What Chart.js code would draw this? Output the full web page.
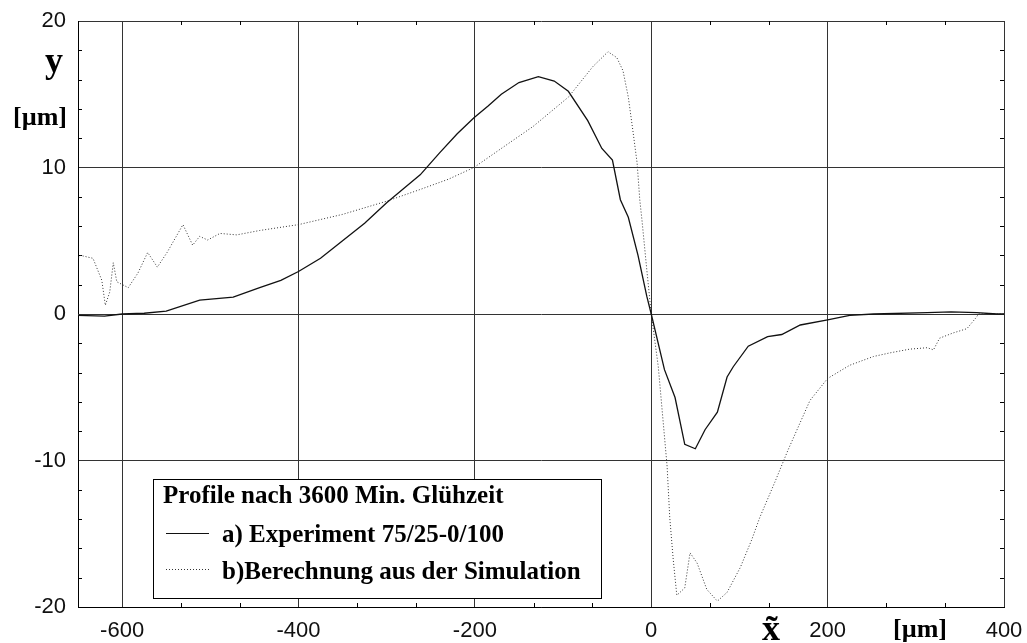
<!DOCTYPE html>
<html>
<head>
<meta charset="utf-8">
<script src="https://cdn.jsdelivr.net/npm/chart.js@4"></script>
<style>
  body { margin: 0; background: #fff; }
</style>
</head>
<body>
<canvas id="profileChart" width="1027" height="643"></canvas>
<script>
// axis ticks
const xTicks = [-600, -400, -200, 0, 200, 400];
const yTicks = [-20, -10, 0, 10, 20];

// a) Experiment 75/25-0/100
const expX = [-650, -620, -600, -575, -550, -512, -474, -444, -420, -400, -375, -350, -325, -300, -280, -262,
  -240, -220, -201, -185, -170, -150, -128, -110, -94, -72, -56, -44, -35, -26, -15, -5, 0,
  15, 27, 38, 50, 61, 75, 86, 93, 110, 132, 148, 169, 200, 225, 252, 313, 340, 369, 392, 400];
const expY = [-0.1, -0.15, 0, 0.05, 0.2, 0.95, 1.15, 1.8, 2.3, 2.9, 3.8, 5.0, 6.2, 7.6, 8.6, 9.5,
  11.0, 12.3, 13.4, 14.2, 15.0, 15.8, 16.2, 15.9, 15.2, 13.2, 11.3, 10.5, 7.8, 6.6, 4.0, 1.2, 0,
  -3.8, -5.7, -8.9, -9.2, -7.9, -6.7, -4.3, -3.6, -2.2, -1.55, -1.4, -0.75, -0.4, -0.1, 0, 0.1, 0.15, 0.1, 0, 0];

// b) Berechnung aus der Simulation
const simX = [-650, -647, -633, -623, -619, -614, -610, -606, -593, -582, -571, -560, -549, -531, -520, -512,
  -503, -489, -470, -444, -400, -350, -300, -262, -230, -201, -170, -134, -94, -66, -49, -39, -32, -26,
  -21, -16, -13, -10.5, -5, 0, 8, 13, 18, 21, 25, 29, 38, 44, 52, 63, 75, 86, 101, 114, 123, 140, 155,
  180, 200, 225, 252, 271, 293, 313, 320, 327, 342, 358, 369, 371, 400];
const simY = [3.8, 4.0, 3.8, 2.3, 0.6, 1.5, 3.5, 2.2, 1.8, 2.8, 4.2, 3.2, 4.2, 6.1, 4.7, 5.3,
  5.05, 5.5, 5.4, 5.7, 6.1, 6.8, 7.7, 8.5, 9.2, 10.0, 11.3, 12.8, 14.8, 16.9, 17.9, 17.5, 16.6, 14.8,
  12.6, 10.3, 7.8, 6.4, 3.0, 0, -3.6, -7.0, -10.4, -13.9, -16.8, -19.2, -18.7, -16.3, -17.0, -18.8, -19.6, -19.0, -17.3, -15.4, -13.9, -11.5, -9.3,
  -5.9, -4.4, -3.5, -2.9, -2.65, -2.4, -2.3, -2.45, -1.65, -1.3, -1.0, -0.2, 0, 0];

const legendTitle = 'Profile nach 3600 Min. Glühzeit';

const SERIF = "'Liberation Serif', 'Times New Roman', serif";
const SANS = "'Liberation Sans', Arial, sans-serif";

function toPoints(xs, ys) {
  return xs.map((x, i) => ({ x: x, y: ys[i] }));
}

// small inward tick marks between the grid lines
const minorTicks = {
  id: 'minorTicks',
  beforeDatasetsDraw(chart) {
    const { ctx, chartArea: a, scales: { x, y } } = chart;
    ctx.save();
    ctx.strokeStyle = '#000';
    ctx.lineWidth = 1;
    ctx.beginPath();
    for (let k = 1; k < 15; k++) {
      const v = -600 + k * 200 / 3;
      if (k % 3 === 0 || v > 400) continue;
      const px = Math.round(x.getPixelForValue(v)) + 0.5;
      ctx.moveTo(px, a.bottom); ctx.lineTo(px, a.bottom - 4);
      ctx.moveTo(px, a.top); ctx.lineTo(px, a.top + 4);
    }
    for (let v = -18; v < 20; v += 2) {
      if (v % 10 === 0) continue;
      const py = Math.round(y.getPixelForValue(v)) + 0.5;
      ctx.moveTo(a.left, py); ctx.lineTo(a.left + 4, py);
      ctx.moveTo(a.right, py); ctx.lineTo(a.right - 4, py);
    }
    ctx.stroke();
    ctx.restore();
  }
};

// boxed legend inside the plot, lower left
const boxLegend = {
  id: 'boxLegend',
  afterDatasetsDraw(chart) {
    const { ctx } = chart;
    const ds = chart.data.datasets;
    ctx.save();
    ctx.fillStyle = '#fff';
    ctx.fillRect(153, 479, 448, 119);
    ctx.strokeStyle = '#000';
    ctx.lineWidth = 1;
    ctx.strokeRect(153.5, 479.5, 448, 119);

    ctx.fillStyle = '#000';
    ctx.font = 'bold 25px ' + SERIF;
    ctx.textBaseline = 'alphabetic';
    ctx.textAlign = 'left';
    ctx.fillText(legendTitle, 163, 503);

    const rows = [533.5, 569.5];
    const base = [542, 579];
    ds.forEach((d, i) => {
      ctx.beginPath();
      ctx.strokeStyle = d.borderColor;
      ctx.lineWidth = 1;
      ctx.setLineDash(d.borderDash || []);
      ctx.moveTo(166, rows[i]);
      ctx.lineTo(209, rows[i]);
      ctx.stroke();
      ctx.setLineDash([]);
      ctx.fillText(d.label, 222, base[i]);
    });
    ctx.restore();
  }
};

// axis names: y [µm] on the left, x̃ [µm] along the bottom
const axisNames = {
  id: 'axisNames',
  afterDraw(chart) {
    const { ctx } = chart;
    ctx.save();
    ctx.fillStyle = '#000';
    ctx.textAlign = 'center';
    ctx.textBaseline = 'alphabetic';
    ctx.font = 'bold 36px ' + SERIF;
    ctx.fillText('y', 54, 72);
    ctx.fillText('x\u0303', 771, 640);
    ctx.font = 'bold 26px ' + SERIF;
    ctx.fillText('[\u00b5m]', 40, 125);
    ctx.fillText('[\u00b5m]', 920, 637);
    ctx.restore();
  }
};

const ctx = document.getElementById('profileChart').getContext('2d');
new Chart(ctx, {
  type: 'scatter',
  data: {
    datasets: [
      {
        label: 'a) Experiment 75/25-0/100',
        data: toPoints(expX, expY),
        showLine: true,
        borderColor: '#111',
        borderWidth: 1.3,
        pointRadius: 0,
        tension: 0
      },
      {
        label: 'b)Berechnung aus der Simulation',
        data: toPoints(simX, simY),
        showLine: true,
        borderColor: '#333',
        borderWidth: 1,
        borderDash: [1, 2],
        pointRadius: 0,
        tension: 0
      }
    ]
  },
  options: {
    responsive: false,
    animation: false,
    layout: { padding: { top: 21, right: 23, left: 0, bottom: 0 } },
    plugins: {
      legend: { display: false },
      tooltip: { enabled: false }
    },
    scales: {
      x: {
        type: 'linear',
        min: -650,
        max: 400,
        afterBuildTicks: (s) => { s.ticks = xTicks.map(v => ({ value: v })); },
        afterFit: (s) => { s.height = 36; },
        grid: { color: '#333', lineWidth: 1, drawTicks: true, tickLength: 7, tickColor: 'rgba(0,0,0,0)' },
        border: { color: '#000', width: 1 },
        ticks: {
          color: '#111',
          padding: 4,
          maxRotation: 0,
          font: { family: SANS, size: 22 }
        }
      },
      y: {
        type: 'linear',
        min: -20,
        max: 20,
        afterBuildTicks: (s) => { s.ticks = yTicks.map(v => ({ value: v })); },
        afterFit: (s) => { s.width = 78; },
        grid: { color: '#333', lineWidth: 1, drawTicks: true, tickLength: 12, tickColor: 'rgba(0,0,0,0)' },
        border: { color: '#000', width: 1 },
        ticks: {
          color: '#111',
          padding: 0,
          font: { family: SANS, size: 22 }
        }
      }
    }
  },
  plugins: [minorTicks, boxLegend, axisNames]
});
</script>
</body>
</html>
